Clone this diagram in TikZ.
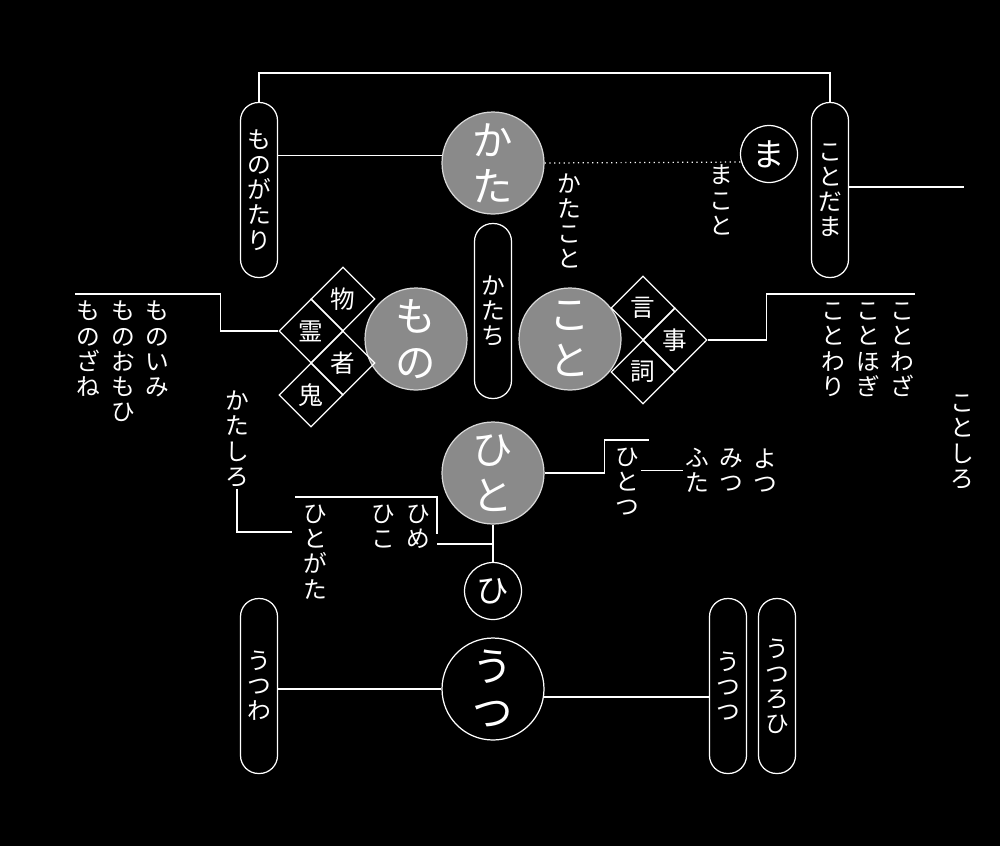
\documentclass[tikz,border=0pt]{standalone}
\usepackage{fontspec}
\newfontfamily\jp{Noto Sans CJK JP}
\usetikzlibrary{shapes.geometric, positioning}
\definecolor{kasumi}{HTML}{8A8A8A}
\definecolor{fuchi}{HTML}{D8D8D8}

\begin{document}
\begin{tikzpicture}[x=0.02cm, y=-0.02cm,
	every node/.style={text=white, font=\jp},
	sen/.style={draw=white, line width=0.7pt},
	tate/.style={align=center, inner sep=1pt, font=\jp\fontsize{13.5}{14.3}\selectfont},
	pill/.style={tate, draw=white, fill=black, line width=0.7pt, rounded corners=0.36cm,
		minimum width=0.74cm, minimum height=3.5cm},
	gmaru/.style={circle, fill=kasumi, draw=fuchi, line width=0.7pt, minimum size=2.04cm,
		inner sep=0pt, align=center, font=\jp\fontsize{23}{26}\selectfont},
	kmaru/.style={gmaru, fill=black, draw=white},
	komaru/.style={circle, draw=white, fill=black, line width=0.7pt, minimum size=1.14cm,
		inner sep=0pt, font=\jp\fontsize{18.5}{20}\selectfont},
	hishi/.style={diamond, draw=white, line width=0.7pt, minimum width=1.28cm,
		minimum height=1.28cm, inner sep=0pt, font=\jp\fontsize{14}{15}\selectfont}]
		\useasboundingbox[fill=black] (0,0) rectangle (1000,846);
		
		\node[gmaru] (kata) at (493,163) {か\\た};
		\node[komaru] (ma) at (769,154) {ま};
		\node[pill] (monogatari) at (259,190) {も\\の\\が\\た\\り};
		\node[pill] (kotodama) at (830,190) {こ\\と\\だ\\ま};
		\node[tate] (makoto) at (721,200) {ま\\こ\\と};
		\node[tate] (katakoto) at (569,221) {か\\た\\こ\\と};
		\node[pill] (katachi) at (493,311) {か\\た\\ち};
		
		\node[gmaru] (mono) at (416,339) {も\\の};
		\node[gmaru] (koto) at (570,339) {こ\\と};
		\node[hishi] (butsu) at (343,299) {物};
		\node[hishi] (rei) at (311,331) {霊};
		\node[hishi] (sha) at (343,363) {者};
		\node[hishi] (ki) at (311,395) {鬼};
		\node[hishi] (gen) at (643,308) {言};
		\node[hishi] (ji) at (675,340) {事};
		\node[hishi] (shi) at (643,372) {詞};
		
		\node[tate, anchor=north] (monoimi) at (157,299) {も\\の\\い\\み};
		\node[tate, anchor=north] (monoomoi) at (123,299) {も\\の\\お\\も\\ひ};
		\node[tate, anchor=north] (monozane) at (88,299) {も\\の\\ざ\\ね};
		\node[tate, anchor=north] (kotowaza) at (902,301) {こ\\と\\わ\\ざ};
		\node[tate, anchor=north] (kotohogi) at (868,301) {こ\\と\\ほ\\ぎ};
		\node[tate, anchor=north] (kotowari) at (833,301) {こ\\と\\わ\\り};
		\node[tate] (kotoshiro) at (962,442) {こ\\と\\し\\ろ};
		
		\node[gmaru] (hito) at (493,473) {ひ\\と};
		\node[komaru] (hi) at (493,591) {ひ};
		\node[tate, anchor=north] (hitotsu) at (627,446) {ひ\\と\\つ};
		\node[tate, anchor=north] (futa) at (697,446) {ふ\\た};
		\node[tate, right=0.12cm of futa] (mitsu) {み\\つ};
		\node[tate, right=0.12cm of mitsu] (yotsu) {よ\\つ};
		\node[tate, anchor=north] (hime) at (418,503) {ひ\\め};
		\node[tate, anchor=north] (hiko) at (383,503) {ひ\\こ};
		\node[tate, anchor=north] (hitogata) at (315,503) {ひ\\と\\が\\た};
		\node[tate, anchor=north] (katashiro) at (237,389) {か\\た\\し\\ろ};
		
		\node[kmaru] (utsu) at (493,689) {う\\つ};
		\node[pill] (utsuwa) at (259,686) {う\\つ\\わ};
		\node[pill] (utsutsu) at (728,686) {う\\つ\\つ};
		\node[pill] (utsuroi) at (777,686) {う\\つ\\ろ\\ひ};
		
		\coordinate (ue) at (544,73);
		\draw[sen] (monogatari.north) |- (ue) -| (kotodama.north);
		\draw[sen] (monogatari.east |- kata.172) -- (kata.172);
		\draw[sen, dotted] (kata.east) -- (ma.196);
		\coordinate (dama) at (964,187);
		\draw[sen] (kotodama.east |- dama) -- (dama);
		\coordinate (monoL) at (75,294);
		\draw[sen] (rei.west) -- ++(-58,0) |- (monoL);
		\coordinate (kotoR) at (915,294);
		\draw[sen] (ji.east) -- ++(59,0) |- (kotoR);
		\coordinate (hitoR) at (649,440);
		\draw[sen] (hito.east) -- ++(60,0) |- (hitoR);
		\draw[sen] (hitotsu.east |- futa.west) -- (futa.west);
		\draw[sen] (hito.south) -- (hi.north);
		\coordinate (himeR) at (437,544);
		\draw[sen] (himeR) -- (himeR -| hito.south);
		\coordinate (kakkoL) at (295,497);
		\coordinate (kakkoR) at (437,534);
		\draw[sen] (kakkoL) -| (kakkoR);
		\coordinate (hgL) at (292,532);
		\draw[sen] (katashiro.south) |- (hgL);
		\draw[sen] (utsuwa.east |- utsu.west) -- (utsu.west);
		\draw[sen] (utsu.-9) -- (utsu.-9 -| utsutsu.west);
	\end{tikzpicture}
\end{document}
